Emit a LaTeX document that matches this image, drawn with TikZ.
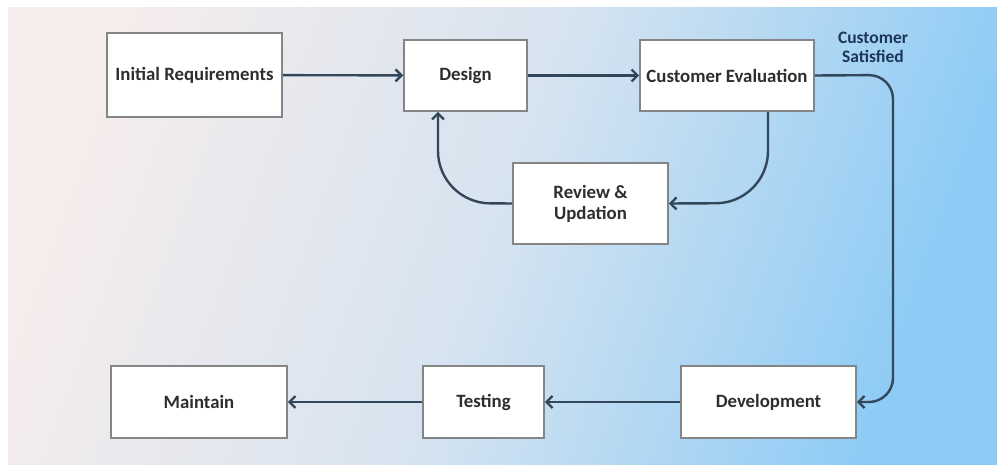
\documentclass[tikz,border=0pt]{standalone}
\usepackage{fontspec}
\setmainfont{Carlito}
\usetikzlibrary{arrows.meta}
\definecolor{bgpink}{HTML}{F5ECEC}
\definecolor{bgmid}{HTML}{D5E3F0}
\definecolor{bgblue}{HTML}{8DCBF5}
\definecolor{linecol}{HTML}{33475B}
\definecolor{boxline}{HTML}{858585}
\definecolor{labelcol}{HTML}{1C3657}
\tikzset{
  stage/.style={draw=boxline, line width=1.6pt, fill=white, inner sep=0pt,
    font=\bfseries\fontsize{18.8}{21}\selectfont, text=black!82, align=center},
  flow/.style={draw=linecol, line width=2.4pt,
    -{Straight Barb[length=6pt,width=12pt,line width=2.4pt]}},
}
\begin{document}
\begin{tikzpicture}[x=1pt,y=-1pt]
  % canvas with a white margin on the top and left
  \useasboundingbox (0,0) rectangle (997,465);
  \fill[white] (0,0) rectangle (997,465);
  \shade[left color=bgpink, right color=bgblue, middle color=bgmid, shading angle=70]
    (8,8) rectangle (997,465);

  % stages
  \node[stage, minimum width=175pt, minimum height=84pt] (req)  at (194.5,75) {Initial Requirements};
  \node[stage, minimum width=123pt, minimum height=71pt] (des)  at (465.5,75.5) {Design};
  \node[stage, minimum width=174pt, minimum height=71pt] (eval) at (727,75.5) {Customer Evaluation};
  \node[stage, minimum width=155pt, minimum height=81pt] (rev)  at (590.5,203.5) {Review \&\\Updation};
  \node[stage, minimum width=176pt, minimum height=72pt] (mnt)  at (199,402) {Maintain};
  \node[stage, minimum width=121pt, minimum height=72pt] (tst)  at (483.5,402) {Testing};
  \node[stage, minimum width=175pt, minimum height=72pt] (dev)  at (768.5,402) {Development};

  \node[font=\bfseries\fontsize{17.5}{19}\selectfont, text=labelcol, align=center] (sat)
    at (873,47.5) {Customer\\Satisfied};

  % turning points of the loops
  \coordinate (evdown) at (768,203);
  \coordinate (desup) at (438,203);
  \coordinate (corner1) at (893,75);
  \coordinate (corner2) at (893,402);

  % connectors
  \draw[flow] (req) -- (des);
  \draw[flow] (des) -- (eval);
  \draw[flow, rounded corners=52pt] (eval.south -| evdown) -- (evdown) -- (rev.east);
  \draw[flow, rounded corners=52pt] (rev.west) -- (desup) -- (des.south -| desup);
  \draw[flow, rounded corners=24pt] (eval.east) -- (corner1) -- (corner2) -- (dev.east);
  \draw[flow] (dev) -- (tst);
  \draw[flow] (tst) -- (mnt);
\end{tikzpicture}
\end{document}
